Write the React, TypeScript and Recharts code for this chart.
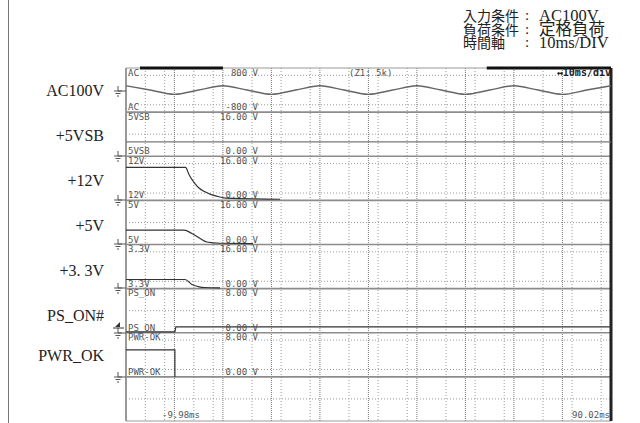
import { ComposedChart, Line, XAxis, YAxis, CartesianGrid, ReferenceLine } from "recharts";

// time axis of the recorder (ms)
const tStart = -9.98;
const tEnd = 90.02;

const channelNames = ["AC100V", "+5VSB", "+12V", "+5V", "+3. 3V", "PS_ON#", "PWR_OK"];
const shortNames = ["AC", "5VSB", "12V", "5V", "3.3V", "PS_ON", "PWR-OK"];
const topScale = ["800 V", "16.00 V", "16.00 V", "16.00 V", "16.00 V", "8.00 V", "8.00 V"];
const bottomScale = ["-800 V", "0.00 V", "0.00 V", "0.00 V", "0.00 V", "0.00 V", "0.00 V"];
const spanVolts = [1600, 16, 16, 16, 16, 8, 8];
const zeroFrac = [0.5, 0, 0, 0, 0, 0, 0];

const acTime = [-9.98, -5, 0, 5, 10, 15, 20, 25, 30, 35, 40, 45, 50, 55, 60, 65, 70, 75, 80, 85, 90.02];
const acVolt = [155, 0, -155, 0, 155, 0, -155, 0, 155, 0, -155, 0, 155, 0, -155, 0, 155, 0, -155, 0, 155];

const vsbTime = [-9.98, 90.02];
const vsbVolt = [5.2, 5.2];

const v12Time = [-9.98, 2.3, 3.0, 4.0, 5.0, 6.2, 7.6, 9.0, 10.6, 21.8];
const v12Volt = [12, 12, 9.4, 6.6, 4.6, 3.2, 2.1, 1.4, 0.8, 0.4];

const v5Time = [-9.98, 2.0, 3.6, 5.3, 6.7, 9.4, 16.2];
const v5Volt = [5.2, 5.2, 4.0, 2.2, 0.9, 0.45, 0.35];

const v33Time = [-9.98, 2.2, 3.6, 4.9, 6.3, 9.4];
const v33Volt = [3.3, 3.3, 1.5, 0.75, 0.4, 0.3];

const psOnTime = [-9.98, 0.1, 0.3, 90.02];
const psOnVolt = [0.15, 0.15, 1.05, 1.05];

const pwrOkTime = [-9.98, 0.1, 0.1];
const pwrOkVolt = [4.9, 4.9, 0];

const majorTimes = [0, 10, 20, 30, 40, 50, 60, 70, 80];
const minorTimes = [-8, -6, -4, -2, 2, 4, 6, 8, 12, 14, 16, 18, 22, 24, 26, 28, 32, 34, 36, 38, 42, 44, 46, 48, 52, 54, 56, 58, 62, 64, 66, 68, 72, 74, 76, 78, 82, 84, 86, 88];

const conditions = [
  ["入力条件", "AC100V"],
  ["負荷条件", "定格負荷"],
  ["時間軸", "10ms/DIV"],
];

const ROWS = 6; // grid rows per channel
const CHANNELS = 8;
const TOTAL = ROWS * CHANNELS;

const rowValues = Array.from({ length: TOTAL - 1 }, (_, i) => i + 1).filter((r) => r % ROWS !== 0);
const separators = [6, 12, 18, 24, 30, 36, 42];

function trace(k: number, times: number[], volts: number[]) {
  const base = (CHANNELS - 1 - k) * ROWS;
  return times.map((t, i) => ({
    t,
    y: base + (zeroFrac[k] + volts[i] / spanVolts[k]) * ROWS,
  }));
}

const PLOT_TOP = 68;
const PLOT_H = 353;
const CH_H = PLOT_H / CHANNELS;
const nameY = [91, 136, 181, 226, 271, 316, 356];
const groundY = [91, 156, 200, 244, 288, 333, 377];

const mono: React.CSSProperties = {
  position: "absolute",
  fontFamily: "'DejaVu Sans Mono', monospace",
  fontSize: 9,
  lineHeight: "9px",
  color: "#555",
  whiteSpace: "pre",
};

function Ground({ y }: { y: number }) {
  return (
    <svg style={{ position: "absolute", left: 113, top: y - 5 }} width={14} height={11}>
      <line x1={5} y1={0} x2={5} y2={5} stroke="#555" />
      <line x1={5} y1={5} x2={13} y2={5} stroke="#555" />
      <line x1={1} y1={5} x2={9} y2={5} stroke="#555" />
      <line x1={2.5} y1={7.5} x2={7.5} y2={7.5} stroke="#555" />
      <line x1={4} y1={10} x2={6} y2={10} stroke="#555" />
    </svg>
  );
}

export default function App() {
  const ac = trace(0, acTime, acVolt);
  const vsb = trace(1, vsbTime, vsbVolt);
  const v12 = trace(2, v12Time, v12Volt);
  const v5 = trace(3, v5Time, v5Volt);
  const v33 = trace(4, v33Time, v33Volt);
  const psOn = trace(5, psOnTime, psOnVolt);
  const pwrOk = trace(6, pwrOkTime, pwrOkVolt);

  return (
    <div style={{ position: "absolute", left: 0, top: 0, width: 640, height: 423, background: "#fff" }}>
      <div style={{ position: "absolute", left: 8, top: 0, width: 1, height: 423, background: "#777" }} />

      <ComposedChart width={640} height={423} margin={{ top: 68, right: 29, bottom: 2, left: 126 }}>
        <XAxis dataKey="t" type="number" domain={[tStart, tEnd]} allowDataOverflow hide ticks={minorTimes} />
        <YAxis dataKey="y" type="number" domain={[0, TOTAL]} allowDataOverflow hide ticks={rowValues} />
        <CartesianGrid
          stroke="#9a9a9a"
          strokeDasharray="1 2"
          verticalValues={minorTimes}
          horizontalValues={rowValues}
        />
        {majorTimes.map((t) => (
          <ReferenceLine key={"m" + t} x={t} stroke="#777" strokeDasharray="1 1" />
        ))}
        {separators.map((r) => (
          <ReferenceLine key={"s" + r} y={r} stroke="#8c8c8c" strokeWidth={1.6} />
        ))}
        <ReferenceLine y={TOTAL} stroke="#999" strokeWidth={1.2} />
        <ReferenceLine y={0} stroke="#999" strokeWidth={1.2} />
        <ReferenceLine x={tStart} stroke="#999" strokeWidth={2} />
        <ReferenceLine x={tEnd} stroke="#222" strokeWidth={3} />
        <ReferenceLine segment={[{ x: -7.1, y: TOTAL }, { x: 10, y: TOTAL }]} stroke="#111" strokeWidth={3} />
        <ReferenceLine segment={[{ x: 64.4, y: TOTAL }, { x: tEnd, y: TOTAL }]} stroke="#111" strokeWidth={3} />

        <Line data={ac} dataKey="y" type="monotone" stroke="#666" strokeWidth={1.4} dot={false} isAnimationActive={false} />
        <Line data={vsb} dataKey="y" type="linear" stroke="#777" strokeWidth={1.4} dot={false} isAnimationActive={false} />
        <Line data={v12} dataKey="y" type="monotone" stroke="#333" strokeWidth={1.2} dot={false} isAnimationActive={false} />
        <Line data={v5} dataKey="y" type="monotone" stroke="#333" strokeWidth={1.2} dot={false} isAnimationActive={false} />
        <Line data={v33} dataKey="y" type="monotone" stroke="#333" strokeWidth={1.2} dot={false} isAnimationActive={false} />
        <Line data={psOn} dataKey="y" type="linear" stroke="#333" strokeWidth={1.2} dot={false} isAnimationActive={false} />
        <Line data={pwrOk} dataKey="y" type="linear" stroke="#333" strokeWidth={1.2} dot={false} isAnimationActive={false} />
      </ComposedChart>

      {channelNames.map((name, k) => (
        <div
          key={name}
          style={{
            position: "absolute",
            left: 0,
            width: 104,
            textAlign: "right",
            top: nameY[k] - 9,
            fontFamily: "'Liberation Serif', serif",
            fontSize: 16,
            lineHeight: "18px",
            color: "#222",
          }}
        >
          {name}
        </div>
      ))}

      {shortNames.map((s, k) => (
        <div key={"ts" + s}>
          <div style={{ ...mono, left: 128, top: PLOT_TOP + CH_H * k + 0.5 }}>{s}</div>
          <div style={{ ...mono, left: 128, top: PLOT_TOP + CH_H * (k + 1) - 9 }}>{s}</div>
          <div style={{ ...mono, left: 160, width: 98, textAlign: "right", top: PLOT_TOP + CH_H * k + 0.5 }}>{topScale[k]}</div>
          <div style={{ ...mono, left: 160, width: 98, textAlign: "right", top: PLOT_TOP + CH_H * (k + 1) - 9 }}>{bottomScale[k]}</div>
        </div>
      ))}
      <div style={{ ...mono, left: 349, top: 68.5 }}>(Z1: 5k)</div>
      <div style={{ ...mono, left: 540, width: 71, textAlign: "right", top: 67.5, fontSize: 10, lineHeight: "10px", fontWeight: "bold", color: "#222" }}>
        ↔10ms/div
      </div>
      <div style={{ ...mono, left: 162, top: 411 }}>-9.98ms</div>
      <div style={{ ...mono, left: 570, width: 40, textAlign: "right", top: 411 }}>90.02ms</div>

      {groundY.map((y) => (
        <Ground key={"g" + y} y={y} />
      ))}
      <svg style={{ position: "absolute", left: 112, top: 321 }} width={12} height={8}>
        <polygon points="3,6 8,1 8,6" fill="#333" />
        <line x1={1} y1={7} x2={12} y2={7} stroke="#333" />
      </svg>

      <div style={{ position: "absolute", left: 463, top: 9, color: "#222" }}>
        {conditions.map(([a, b]) => (
          <div key={a} style={{ display: "flex", height: 13.5, alignItems: "center" }}>
            <span style={{ width: 62, fontFamily: "'Noto Sans CJK JP'", fontSize: 14, lineHeight: "13px" }}>{a}</span>
            <span style={{ width: 14, fontFamily: "'Liberation Serif'", fontSize: 15, lineHeight: "13px" }}>:</span>
            <span style={{ fontSize: 16.5, lineHeight: "13px", fontFamily: "'Liberation Serif', 'Noto Sans CJK JP'" }}>{b}</span>
          </div>
        ))}
      </div>
    </div>
  );
}
